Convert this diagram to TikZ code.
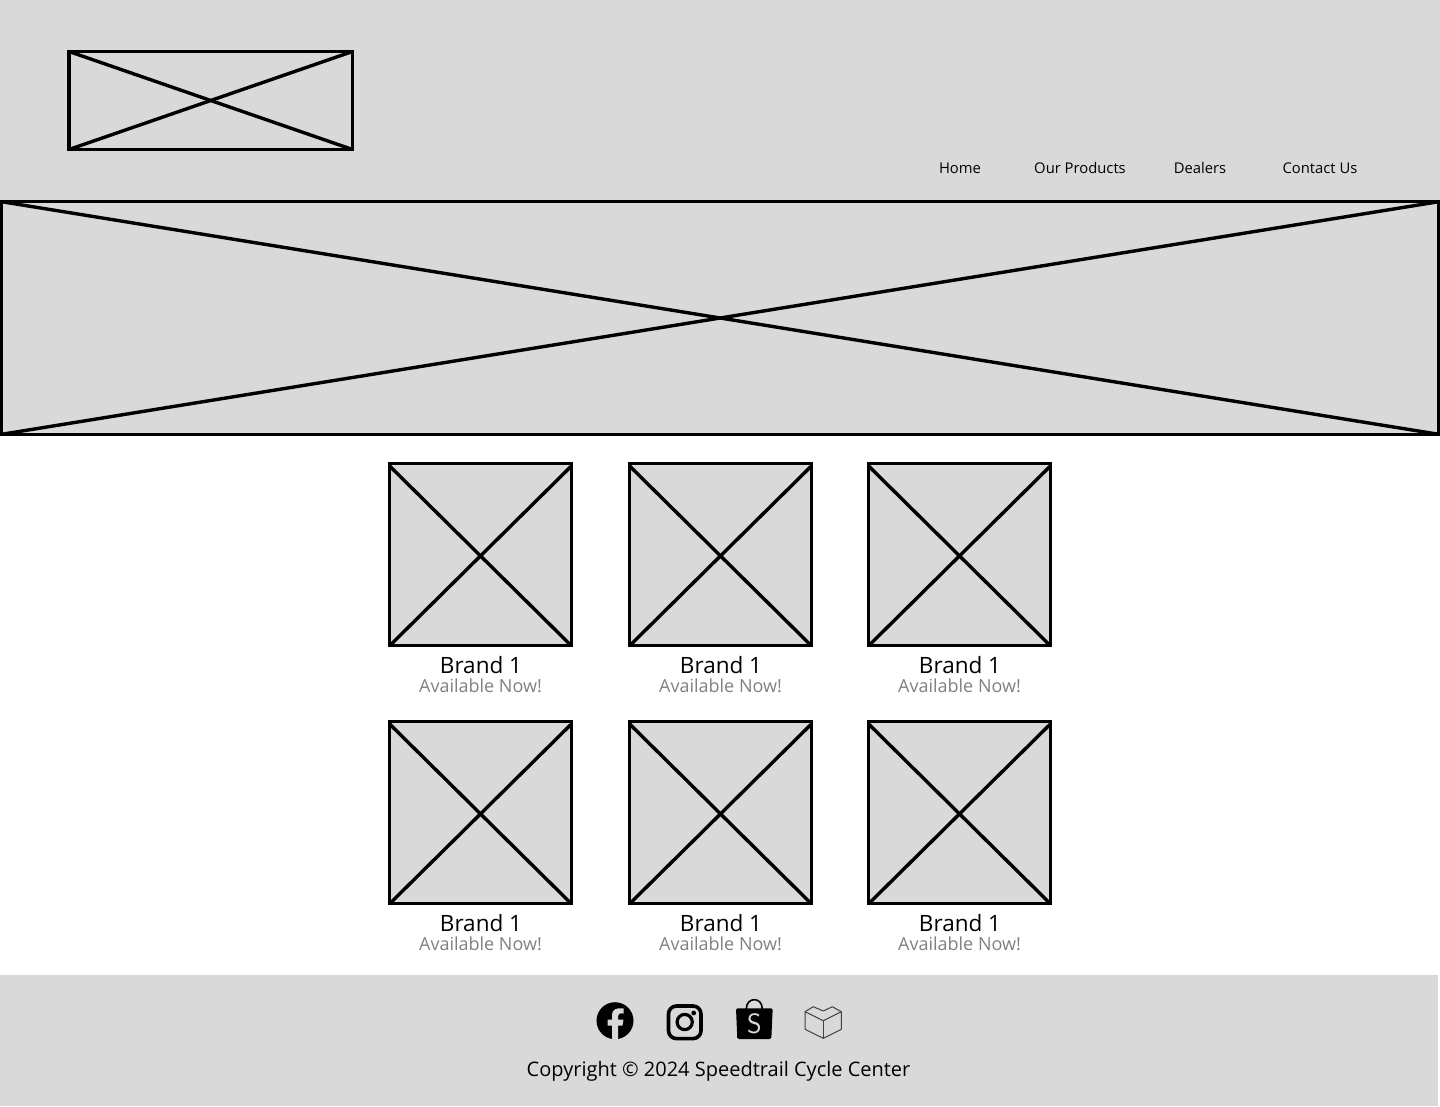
\documentclass[tikz,border=0pt]{standalone}
\usepackage{fontspec}
\setmainfont{Open Sans}
\definecolor{panelgray}{HTML}{D9D9D9}
\definecolor{availgray}{HTML}{808080}
\tikzset{
    panel/.style = {fill=panelgray, draw=none},
    imgbox/.style = {draw=black, fill=panelgray, line width=3.4pt, inner sep=0pt, outer sep=0pt, anchor=north west},
    crossline/.style = {draw=black, line width=3.4pt},
    menulabel/.style = {font=\fontsize{14.8}{17}\selectfont, text=black, inner sep=0pt},
    brandlabel/.style = {font=\fontsize{22.5}{26}\selectfont, text=black, inner sep=0pt},
    availlabel/.style = {font=\fontsize{18}{20}\selectfont, text=availgray, inner sep=0pt},
}
\begin{document}
\begin{tikzpicture}[x=1pt, y=-1pt]

        \useasboundingbox (0,0) rectangle (1440,1106);

        % Header
        \fill[panel] (0,0) rectangle (1440,201);
        \node[imgbox, minimum width=283.5pt, minimum height=98pt] (logo) at (69,51.5) {};
        \draw[crossline] (logo.north west) -- (logo.south east);
        \draw[crossline] (logo.north east) -- (logo.south west);

        % Menu
        \node[menulabel] (home) at (960,168) {Home};
        \node[menulabel] (products) at (1080,168) {Our Products};
        \node[menulabel] (dealers) at (1200,168) {Dealers};
        \node[menulabel] (contact) at (1320,168) {Contact Us};

        % Hero
        \node[imgbox, minimum width=1437pt, minimum height=232.6pt] (hero) at (1.7,201.7) {};
        \draw[crossline] (hero.north west) -- (hero.south east);
        \draw[crossline] (hero.north east) -- (hero.south west);

        % Brand grid
        \foreach \col/\xpos in {a/389.7, b/629.7, c/868.7} {
            \foreach \row/\ypos in {1/463.7, 2/721.7} {
                \node[imgbox, minimum width=181.6pt, minimum height=181.6pt] (brand\col\row) at (\xpos,\ypos) {};
                \draw[crossline] ([yshift=-2.4pt]brand\col\row.north west) -- ([yshift=-0.4pt]brand\col\row.south east);
                \draw[crossline] ([yshift=-2.4pt]brand\col\row.north east) -- ([yshift=-0.4pt]brand\col\row.south west);
                \node[brandlabel] (name\col\row) at (\xpos+91.3,\ypos+201.8) {Brand 1};
                \node[availlabel] (avail\col\row) at (\xpos+90.8,\ypos+222.3) {Available Now!};
            }
        }

        % Footer
        \fill[panel] (0,975) rectangle (1438,1106);
        \node[font=\fontsize{20}{23}\selectfont, inner sep=0pt] (copyright) at (718.5,1071.5) {Copyright © 2024 Speedtrail Cycle Center};

        % Facebook
        \fill[black] (615,1020.7) circle (18.5);
        \fill[panelgray] (612,1039.5) -- (612,1025.5) -- (607.5,1025.5) -- (607.5,1019.5) -- (612,1019.5) -- (612,1015)
            .. controls (612,1009.5) and (616,1007.5) .. (623.5,1008.5) -- (623.5,1013.5)
            .. controls (619.5,1013) and (618,1014) .. (618,1016) -- (618,1019.5) -- (623.5,1019.5)
            -- (622.5,1025.5) -- (618,1025.5) -- (618,1039.5) -- cycle;

        % Instagram
        \draw[black, line width=3.6pt, rounded corners=8pt] (668.5,1006) rectangle (701,1038.6);
        \draw[black, line width=3.2pt] (684.7,1022) circle (7.6);
        \fill[black] (693.7,1013) circle (2.4);

        % Shopee
        \draw[black, line width=1.6pt] (746.3,1009) .. controls (746.3,996.5) and (762.3,996.5) .. (762.3,1009);
        \fill[black, rounded corners=1.5pt] (736,1008.3) -- (772.7,1008.3) -- (771.3,1039) -- (737.3,1039) -- cycle;
        \node[font=\fontsize{28}{30}\selectfont\sffamily, text=panelgray, inner sep=0pt] (shopee) at (754.3,1024) {S};

        % Package
        \draw[black!75, line width=1pt, line join=round] (805,1011.7) -- (813.3,1006.7) -- (823.3,1011) -- (832.3,1006.7) -- (841.3,1011.7)
            -- (841.3,1029.3) -- (823.3,1038.3) -- (805,1029.3) -- cycle;
        \draw[black!75, line width=1pt, line join=round] (805,1011.7) -- (823.3,1020.7) -- (841.3,1011.7);
        \draw[black!75, line width=1pt] (823.3,1020.7) -- (823.3,1038.3);
    \end{tikzpicture}
\end{document}
